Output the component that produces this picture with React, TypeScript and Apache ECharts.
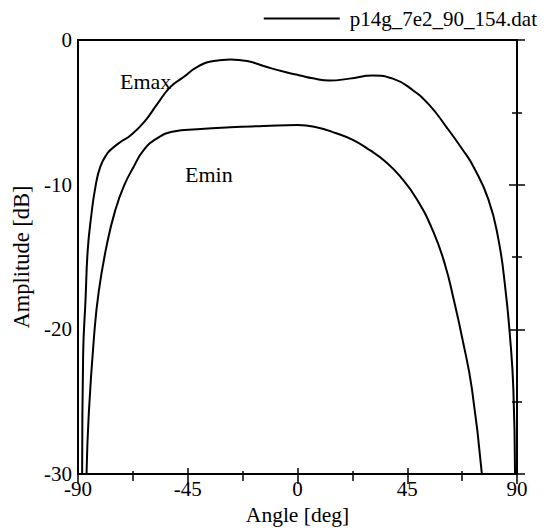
import React, { useEffect, useRef } from "react";
import * as echarts from "echarts";

const emaxAngles = [-88.3, -87.9, -86.9, -86.0, -84.6, -82.8, -80.8, -78.0, -76.0, -72.6, -68.5, -63.0, -57.6, -52.1, -46.7, -41.2, -34.4, -27.5, -20.7, -12.5, -4.3, 1.0, 6.3, 13.2, 21.3, 30.9, 39.1, 47.3, 54.1, 61.0, 67.8, 72.1, 78.3, 82.4, 85.1, 87.2, 88.5, 89.2];
const emaxValues = [-30, -21.8, -17.9, -14.5, -12.2, -10.1, -8.74, -7.85, -7.5, -7.05, -6.6, -5.7, -4.45, -3.24, -2.56, -1.87, -1.45, -1.34, -1.45, -1.87, -2.25, -2.45, -2.65, -2.8, -2.67, -2.46, -2.67, -3.47, -4.5, -6.0, -7.6, -8.74, -11.03, -13.8, -17.0, -20.65, -24.1, -30];

const eminAngles = [-86.5, -85.6, -83.5, -81.5, -78.0, -74.6, -71.2, -67.1, -63.0, -57.6, -50.8, -41.2, -27.5, -13.9, 0.0, 7.7, 15.9, 22.7, 29.5, 36.0, 42.1, 49.0, 55.8, 60.6, 64.0, 67.6, 71.5, 75.6];
const eminValues = [-30, -25.9, -20.65, -17.4, -14.0, -11.7, -10.1, -8.74, -7.6, -6.8, -6.33, -6.17, -6.03, -5.95, -5.88, -6.03, -6.45, -6.9, -7.6, -8.4, -9.43, -11.03, -13.3, -15.6, -17.9, -20.65, -24.1, -30];

const legendName = "p14g_7e2_90_154.dat";
const FONT = "'Liberation Serif', 'Times New Roman', serif";

const GRID = { left: 78, right: 31, top: 40, bottom: 55 };
const PLOT_W = 548 - GRID.left - GRID.right;
const PLOT_H = 531 - GRID.top - GRID.bottom;

export default function App() {
  const ref = useRef<HTMLDivElement>(null);
  useEffect(() => {
    if (!ref.current) return;
    const chart = echarts.init(ref.current, undefined, { renderer: "svg" });
    const tick = { show: true, inside: false, length: 8, lineStyle: { color: "#000", width: 1.5 } };
    const minor = { show: true, splitNumber: 2, length: 5, lineStyle: { color: "#000", width: 1.5 } };
    const xBase = { type: "value", min: -90, max: 90, interval: 45, splitLine: { show: false } };
    const yBase = { type: "value", min: -30, max: 0, interval: 10, splitLine: { show: false } };
    const tickOnly = {
      axisLine: { show: false },
      axisLabel: { show: false },
      axisTick: tick,
      minorTick: minor,
    };
    const option = {
      animation: false,
      backgroundColor: "#fff",
      textStyle: { fontFamily: FONT, color: "#000" },
      grid: { ...GRID, containLabel: false, show: true, borderColor: "#000", borderWidth: 2, backgroundColor: "transparent" },
      legend: {
        data: [{ name: legendName, icon: "rect" }],
        right: 6,
        top: 3,
        itemWidth: 76,
        itemHeight: 2,
        textStyle: { fontFamily: FONT, fontSize: 21, color: "#000", padding: [0, 0, 0, 5] },
      },
      xAxis: [
        {
          ...xBase,
          position: "bottom",
          name: "Angle [deg]",
          nameLocation: "middle",
          nameGap: 30,
          nameTextStyle: { fontFamily: FONT, fontSize: 21.5, color: "#000" },
          axisLabel: { fontFamily: FONT, fontSize: 21, color: "#000", margin: 4 },
          axisLine: { show: false, onZero: false },
          axisTick: { show: false },
        },
        { ...xBase, position: "top", offset: -PLOT_H, ...tickOnly },
        { ...xBase, position: "bottom", offset: -PLOT_H, ...tickOnly },
      ],
      yAxis: [
        {
          ...yBase,
          position: "left",
          name: "Amplitude [dB]",
          nameLocation: "middle",
          nameGap: 43,
          nameTextStyle: { fontFamily: FONT, fontSize: 22.5, color: "#000" },
          axisLabel: { fontFamily: FONT, fontSize: 21, color: "#000", margin: 6 },
          axisLine: { show: false, onZero: false },
          axisTick: { show: false },
        },
        { ...yBase, position: "right", offset: -PLOT_W, ...tickOnly },
        { ...yBase, position: "left", offset: -PLOT_W, ...tickOnly },
      ],
      series: [
        {
          name: legendName,
          type: "line",
          xAxisIndex: 0,
          yAxisIndex: 0,
          data: emaxAngles.map((a, i) => [a, emaxValues[i]]),
          smooth: 0.5,
          showSymbol: false,
          lineStyle: { color: "#000", width: 2 },
          itemStyle: { color: "#000" },
        },
        {
          name: legendName,
          type: "line",
          xAxisIndex: 0,
          yAxisIndex: 0,
          data: eminAngles.map((a, i) => [a, eminValues[i]]),
          smooth: 0.5,
          showSymbol: false,
          lineStyle: { color: "#000", width: 2 },
          itemStyle: { color: "#000" },
        },
      ],
      graphic: [
        { type: "text", left: 120, top: 70, style: { text: "Emax", font: `22px ${FONT}`, fill: "#000" } },
        { type: "text", left: 185, top: 163, style: { text: "Emin", font: `22px ${FONT}`, fill: "#000" } },
      ],
    };
    chart.setOption(option as any);
    return () => chart.dispose();
  }, []);
  return <div ref={ref} style={{ position: "fixed", left: 0, top: 0, width: 548, height: 531 }} />;
}
